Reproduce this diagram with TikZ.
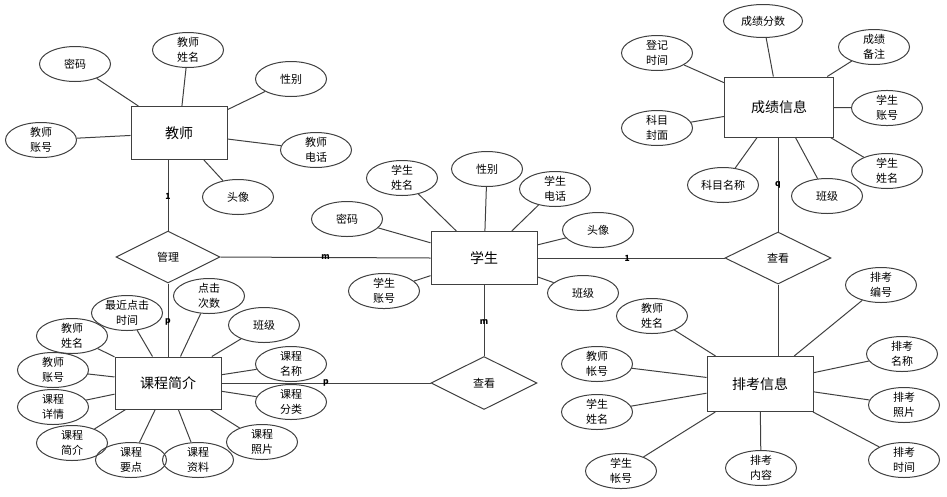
\documentclass[tikz,border=0pt]{standalone}
\usepackage{fontspec}
\setmainfont{Noto Sans CJK SC}
\usepackage{tikz}
\usetikzlibrary{shapes.geometric}
\tikzset{%
	entity/.style={
		draw,
		rectangle,
		text=black,
		minimum width=106pt,
		minimum height=53pt,
		font=\fontsize{14}{16}\selectfont
	},
	attr/.style={
		draw,
		ellipse,
		text=black,
		minimum width=71pt,
		minimum height=35pt,
		inner sep=0pt,
		align=center,
		font=\fontsize{11}{14.5}\selectfont
	},
	relation/.style={
		draw,
		diamond,
		aspect=2,
		text=black,
		minimum width=106pt,
		minimum height=52pt,
		inner sep=0pt,
		font=\fontsize{11}{13}\selectfont
	},
	card/.style={
		inner sep=0pt,
		text=black,
		font=\fontsize{8.5}{8.5}\selectfont\bfseries
	},
}

\begin{document}
\begin{tikzpicture}[
			x=1pt, y=-1pt,
			line width=1pt,
			black!75,
			]
			\useasboundingbox (0,0) rectangle (947,496);
			
			% Entities and relations
			\node[entity, minimum width=96pt] (teacher) at (179,133) {教师};
			\node[entity] (student) at (484,258) {学生};
			\node[entity, minimum width=109pt, minimum height=60pt] (score) at (779,107) {成绩信息};
			\node[entity, minimum height=55pt] (exam) at (760,384) {排考信息};
			\node[entity, minimum height=52pt] (course) at (168,383) {课程简介};
			\node[relation, minimum width=104pt] (manage) at (168,257) {管理};
			\node[relation] (viewexam) at (778,258) {查看};
			\node[relation, minimum height=53pt] (viewcourse) at (484,383) {查看};
			
			% Attributes of teacher
			\node[attr] (t1) at (75,64) {密码};
			\node[attr] (t2) at (188,50) {教师\\姓名};
			\node[attr] (t3) at (291,79) {性别};
			\node[attr] (t4) at (41,140) {教师\\账号};
			\node[attr] (t5) at (316,150) {教师\\电话};
			\node[attr] (t6) at (238,197) {头像};
			\foreach \a in {t1,t2,t3,t4,t5,t6} \draw (\a) -- (teacher);
			
			% Attributes of student
			\node[attr] (s1) at (402,178) {学生\\姓名};
			\node[attr] (s2) at (487,169) {性别};
			\node[attr] (s3) at (555,189) {学生\\电话};
			\node[attr] (s4) at (347,219) {密码};
			\node[attr] (s5) at (598,230) {头像};
			\node[attr] (s6) at (384,291) {学生\\账号};
			\node[attr] (s7) at (583,293) {班级};
			\foreach \a in {s1,s2,s3,s4,s5,s6,s7} \draw (\a) -- (student);
			
			% Attributes of score
			\node[attr, minimum width=79pt, minimum height=33pt] (g1) at (763,21) {成绩分数};
			\node[attr] (g2) at (657,53) {登记\\时间};
			\node[attr] (g3) at (874,47) {成绩\\备注};
			\node[attr] (g4) at (657,128) {科目\\封面};
			\node[attr] (g5) at (887,108) {学生\\账号};
			\node[attr] (g6) at (723,185) {科目名称};
			\node[attr] (g7) at (827,196) {班级};
			\node[attr] (g8) at (887,171) {学生\\姓名};
			\foreach \a in {g1,g2,g3,g4,g5,g6,g7,g8} \draw (\a) -- (score);
			
			% Attributes of exam
			\node[attr] (e1) at (881,285) {排考\\编号};
			\node[attr] (e2) at (652,316) {教师\\姓名};
			\node[attr] (e3) at (597,364) {教师\\帐号};
			\node[attr] (e4) at (902,354) {排考\\名称};
			\node[attr] (e5) at (597,412) {学生\\姓名};
			\node[attr] (e6) at (904,405) {排考\\照片};
			\node[attr] (e7) at (621,471) {学生\\帐号};
			\node[attr] (e8) at (761,468) {排考\\内容};
			\node[attr] (e9) at (904,460) {排考\\时间};
			\foreach \a in {e1,e2,e3,e4,e5,e6,e7,e8,e9} \draw (\a) -- (exam);
			
			% Attributes of course
			\node[attr] (c1) at (209,296) {点击\\次数};
			\node[attr] (c2) at (127,313) {最近点击\\时间};
			\node[attr] (c3) at (264,325) {班级};
			\node[attr] (c4) at (72,336) {教师\\姓名};
			\node[attr] (c5) at (291,364) {课程\\名称};
			\node[attr] (c6) at (53,370) {教师\\账号};
			\node[attr] (c7) at (53,407) {课程\\详情};
			\node[attr] (c8) at (291,402) {课程\\分类};
			\node[attr] (c9) at (262,442) {课程\\照片};
			\node[attr] (c10) at (72,443) {课程\\简介};
			\node[attr] (c11) at (131,460) {课程\\要点};
			\node[attr] (c12) at (198,460) {课程\\资料};
			\foreach \a in {c1,c2,c3,c4,c5,c6,c7,c8,c9,c10,c11,c12} \draw (\a) -- (course);
			
			% Relationships
			\draw (teacher.south -| manage.north) -- node[card, pos=0.52] {1} (manage.north);
			\draw (manage.south) -- node[card, pos=0.53] {p} (course.north);
			\draw (manage.east) -- node[card] {m} (student.west);
			\draw (student.south) -- node[card, pos=0.52] {m} (viewcourse.north);
			\draw (viewcourse.west) -- node[card] {p} (course.east);
			\draw (student.east) -- node[card, pos=0.48] {1} (viewexam.west);
			\draw (viewexam.north) -- node[card] {q} (score.south -| viewexam.north);
			\draw (viewexam.south) -- (exam.north -| viewexam.south);
			
		\end{tikzpicture}
\end{document}
